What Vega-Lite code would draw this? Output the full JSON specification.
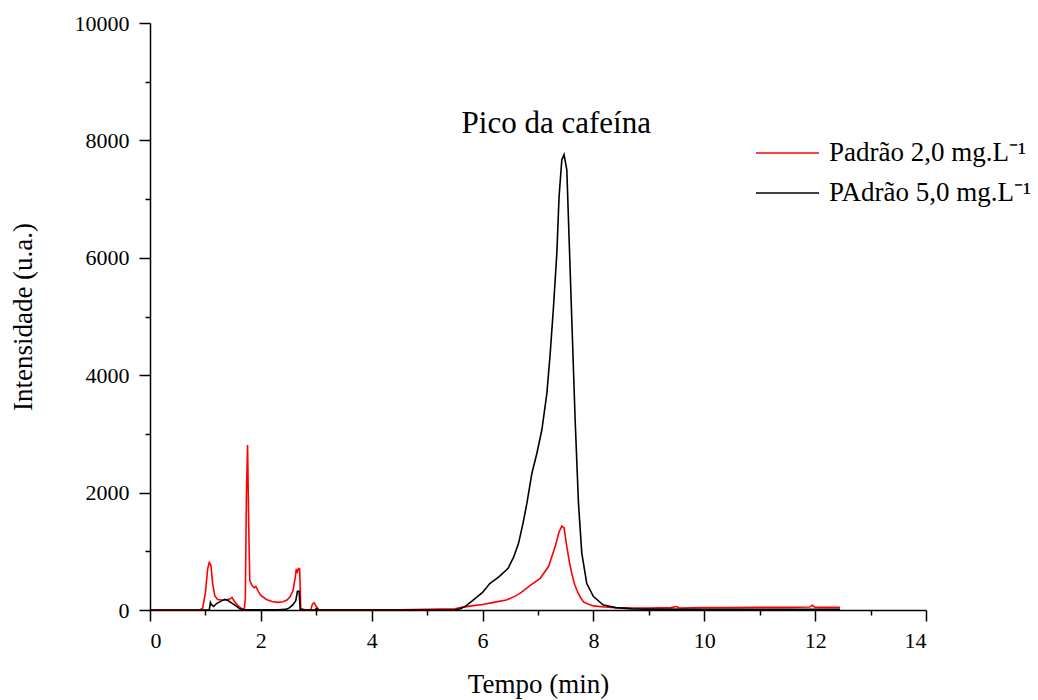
{
  "$schema": "https://vega.github.io/schema/vega-lite/v6.json",
  "width": 776,
  "height": 587,
  "autosize": {"type": "none"},
  "padding": {"left": 150, "top": 23, "right": 112, "bottom": 90},
  "background": "white",
  "config": {"view": {"stroke": null}, "font": "Liberation Serif"},
  "layer": [
    {
      "data": {
        "values": [
          {"t": 0, "v": 0, "s": "Padrão 2,0 mg.L⁻¹"},
          {"t": 0.5, "v": 0, "s": "Padrão 2,0 mg.L⁻¹"},
          {"t": 0.9, "v": 0, "s": "Padrão 2,0 mg.L⁻¹"},
          {"t": 0.95, "v": 30, "s": "Padrão 2,0 mg.L⁻¹"},
          {"t": 1.0, "v": 300, "s": "Padrão 2,0 mg.L⁻¹"},
          {"t": 1.04, "v": 700, "s": "Padrão 2,0 mg.L⁻¹"},
          {"t": 1.07, "v": 810, "s": "Padrão 2,0 mg.L⁻¹"},
          {"t": 1.1, "v": 760, "s": "Padrão 2,0 mg.L⁻¹"},
          {"t": 1.13, "v": 450, "s": "Padrão 2,0 mg.L⁻¹"},
          {"t": 1.17, "v": 240, "s": "Padrão 2,0 mg.L⁻¹"},
          {"t": 1.22, "v": 180, "s": "Padrão 2,0 mg.L⁻¹"},
          {"t": 1.3, "v": 170, "s": "Padrão 2,0 mg.L⁻¹"},
          {"t": 1.38, "v": 175, "s": "Padrão 2,0 mg.L⁻¹"},
          {"t": 1.45, "v": 190, "s": "Padrão 2,0 mg.L⁻¹"},
          {"t": 1.48, "v": 215, "s": "Padrão 2,0 mg.L⁻¹"},
          {"t": 1.52, "v": 150, "s": "Padrão 2,0 mg.L⁻¹"},
          {"t": 1.58, "v": 80, "s": "Padrão 2,0 mg.L⁻¹"},
          {"t": 1.62, "v": 50, "s": "Padrão 2,0 mg.L⁻¹"},
          {"t": 1.66, "v": 20, "s": "Padrão 2,0 mg.L⁻¹"},
          {"t": 1.7, "v": 10, "s": "Padrão 2,0 mg.L⁻¹"},
          {"t": 1.72, "v": 200, "s": "Padrão 2,0 mg.L⁻¹"},
          {"t": 1.74, "v": 2000, "s": "Padrão 2,0 mg.L⁻¹"},
          {"t": 1.76, "v": 2810, "s": "Padrão 2,0 mg.L⁻¹"},
          {"t": 1.78, "v": 1500, "s": "Padrão 2,0 mg.L⁻¹"},
          {"t": 1.8, "v": 500, "s": "Padrão 2,0 mg.L⁻¹"},
          {"t": 1.84, "v": 420, "s": "Padrão 2,0 mg.L⁻¹"},
          {"t": 1.88, "v": 380, "s": "Padrão 2,0 mg.L⁻¹"},
          {"t": 1.91, "v": 400, "s": "Padrão 2,0 mg.L⁻¹"},
          {"t": 1.95, "v": 320, "s": "Padrão 2,0 mg.L⁻¹"},
          {"t": 2.0, "v": 250, "s": "Padrão 2,0 mg.L⁻¹"},
          {"t": 2.1, "v": 180, "s": "Padrão 2,0 mg.L⁻¹"},
          {"t": 2.2, "v": 145, "s": "Padrão 2,0 mg.L⁻¹"},
          {"t": 2.3, "v": 130, "s": "Padrão 2,0 mg.L⁻¹"},
          {"t": 2.4, "v": 140, "s": "Padrão 2,0 mg.L⁻¹"},
          {"t": 2.47, "v": 170, "s": "Padrão 2,0 mg.L⁻¹"},
          {"t": 2.53, "v": 230, "s": "Padrão 2,0 mg.L⁻¹"},
          {"t": 2.58, "v": 330, "s": "Padrão 2,0 mg.L⁻¹"},
          {"t": 2.62, "v": 550, "s": "Padrão 2,0 mg.L⁻¹"},
          {"t": 2.64, "v": 700, "s": "Padrão 2,0 mg.L⁻¹"},
          {"t": 2.66, "v": 650, "s": "Padrão 2,0 mg.L⁻¹"},
          {"t": 2.68, "v": 710, "s": "Padrão 2,0 mg.L⁻¹"},
          {"t": 2.7, "v": 700, "s": "Padrão 2,0 mg.L⁻¹"},
          {"t": 2.72, "v": 20, "s": "Padrão 2,0 mg.L⁻¹"},
          {"t": 2.8, "v": 5, "s": "Padrão 2,0 mg.L⁻¹"},
          {"t": 2.9, "v": 5, "s": "Padrão 2,0 mg.L⁻¹"},
          {"t": 2.93, "v": 100, "s": "Padrão 2,0 mg.L⁻¹"},
          {"t": 2.96, "v": 125, "s": "Padrão 2,0 mg.L⁻¹"},
          {"t": 3.0, "v": 60, "s": "Padrão 2,0 mg.L⁻¹"},
          {"t": 3.05, "v": 5, "s": "Padrão 2,0 mg.L⁻¹"},
          {"t": 3.5, "v": 5, "s": "Padrão 2,0 mg.L⁻¹"},
          {"t": 4.0, "v": 5, "s": "Padrão 2,0 mg.L⁻¹"},
          {"t": 4.5, "v": 5, "s": "Padrão 2,0 mg.L⁻¹"},
          {"t": 5.0, "v": 10, "s": "Padrão 2,0 mg.L⁻¹"},
          {"t": 5.5, "v": 20, "s": "Padrão 2,0 mg.L⁻¹"},
          {"t": 5.6, "v": 40, "s": "Padrão 2,0 mg.L⁻¹"},
          {"t": 5.8, "v": 70, "s": "Padrão 2,0 mg.L⁻¹"},
          {"t": 6.0, "v": 95, "s": "Padrão 2,0 mg.L⁻¹"},
          {"t": 6.2, "v": 130, "s": "Padrão 2,0 mg.L⁻¹"},
          {"t": 6.43, "v": 170, "s": "Padrão 2,0 mg.L⁻¹"},
          {"t": 6.6, "v": 240, "s": "Padrão 2,0 mg.L⁻¹"},
          {"t": 6.7, "v": 300, "s": "Padrão 2,0 mg.L⁻¹"},
          {"t": 6.86, "v": 420, "s": "Padrão 2,0 mg.L⁻¹"},
          {"t": 7.04, "v": 540, "s": "Padrão 2,0 mg.L⁻¹"},
          {"t": 7.19, "v": 740, "s": "Padrão 2,0 mg.L⁻¹"},
          {"t": 7.31, "v": 1080, "s": "Padrão 2,0 mg.L⁻¹"},
          {"t": 7.38, "v": 1330, "s": "Padrão 2,0 mg.L⁻¹"},
          {"t": 7.43, "v": 1430, "s": "Padrão 2,0 mg.L⁻¹"},
          {"t": 7.47, "v": 1400, "s": "Padrão 2,0 mg.L⁻¹"},
          {"t": 7.52, "v": 1080, "s": "Padrão 2,0 mg.L⁻¹"},
          {"t": 7.57, "v": 800, "s": "Padrão 2,0 mg.L⁻¹"},
          {"t": 7.61, "v": 620, "s": "Padrão 2,0 mg.L⁻¹"},
          {"t": 7.66, "v": 440, "s": "Padrão 2,0 mg.L⁻¹"},
          {"t": 7.7, "v": 340, "s": "Padrão 2,0 mg.L⁻¹"},
          {"t": 7.76, "v": 220, "s": "Padrão 2,0 mg.L⁻¹"},
          {"t": 7.82, "v": 140, "s": "Padrão 2,0 mg.L⁻¹"},
          {"t": 7.9, "v": 100, "s": "Padrão 2,0 mg.L⁻¹"},
          {"t": 8.0, "v": 70, "s": "Padrão 2,0 mg.L⁻¹"},
          {"t": 8.2, "v": 50, "s": "Padrão 2,0 mg.L⁻¹"},
          {"t": 8.4, "v": 40, "s": "Padrão 2,0 mg.L⁻¹"},
          {"t": 8.7, "v": 35, "s": "Padrão 2,0 mg.L⁻¹"},
          {"t": 9.0, "v": 35, "s": "Padrão 2,0 mg.L⁻¹"},
          {"t": 9.4, "v": 40, "s": "Padrão 2,0 mg.L⁻¹"},
          {"t": 9.5, "v": 60, "s": "Padrão 2,0 mg.L⁻¹"},
          {"t": 9.55, "v": 35, "s": "Padrão 2,0 mg.L⁻¹"},
          {"t": 10.0, "v": 40, "s": "Padrão 2,0 mg.L⁻¹"},
          {"t": 10.5, "v": 40, "s": "Padrão 2,0 mg.L⁻¹"},
          {"t": 11.0, "v": 45, "s": "Padrão 2,0 mg.L⁻¹"},
          {"t": 11.5, "v": 45, "s": "Padrão 2,0 mg.L⁻¹"},
          {"t": 11.9, "v": 50, "s": "Padrão 2,0 mg.L⁻¹"},
          {"t": 11.95, "v": 80, "s": "Padrão 2,0 mg.L⁻¹"},
          {"t": 12.0, "v": 45, "s": "Padrão 2,0 mg.L⁻¹"},
          {"t": 12.45, "v": 45, "s": "Padrão 2,0 mg.L⁻¹"},

          {"t": 0, "v": 0, "s": "PAdrão 5,0 mg.L⁻¹"},
          {"t": 1.0, "v": 0, "s": "PAdrão 5,0 mg.L⁻¹"},
          {"t": 1.07, "v": 0, "s": "PAdrão 5,0 mg.L⁻¹"},
          {"t": 1.09, "v": 130, "s": "PAdrão 5,0 mg.L⁻¹"},
          {"t": 1.11, "v": 90, "s": "PAdrão 5,0 mg.L⁻¹"},
          {"t": 1.15, "v": 60, "s": "PAdrão 5,0 mg.L⁻¹"},
          {"t": 1.2, "v": 110, "s": "PAdrão 5,0 mg.L⁻¹"},
          {"t": 1.3, "v": 160, "s": "PAdrão 5,0 mg.L⁻¹"},
          {"t": 1.35, "v": 180, "s": "PAdrão 5,0 mg.L⁻¹"},
          {"t": 1.4, "v": 165, "s": "PAdrão 5,0 mg.L⁻¹"},
          {"t": 1.47, "v": 120, "s": "PAdrão 5,0 mg.L⁻¹"},
          {"t": 1.55, "v": 70, "s": "PAdrão 5,0 mg.L⁻¹"},
          {"t": 1.62, "v": 20, "s": "PAdrão 5,0 mg.L⁻¹"},
          {"t": 1.7, "v": 5, "s": "PAdrão 5,0 mg.L⁻¹"},
          {"t": 2.0, "v": 5, "s": "PAdrão 5,0 mg.L⁻¹"},
          {"t": 2.3, "v": 5, "s": "PAdrão 5,0 mg.L⁻¹"},
          {"t": 2.45, "v": 10, "s": "PAdrão 5,0 mg.L⁻¹"},
          {"t": 2.52, "v": 40, "s": "PAdrão 5,0 mg.L⁻¹"},
          {"t": 2.58, "v": 90, "s": "PAdrão 5,0 mg.L⁻¹"},
          {"t": 2.63, "v": 160, "s": "PAdrão 5,0 mg.L⁻¹"},
          {"t": 2.66, "v": 320, "s": "PAdrão 5,0 mg.L⁻¹"},
          {"t": 2.69, "v": 320, "s": "PAdrão 5,0 mg.L⁻¹"},
          {"t": 2.71, "v": 10, "s": "PAdrão 5,0 mg.L⁻¹"},
          {"t": 2.8, "v": 0, "s": "PAdrão 5,0 mg.L⁻¹"},
          {"t": 2.98, "v": 0, "s": "PAdrão 5,0 mg.L⁻¹"},
          {"t": 3.0, "v": 25, "s": "PAdrão 5,0 mg.L⁻¹"},
          {"t": 3.03, "v": 0, "s": "PAdrão 5,0 mg.L⁻¹"},
          {"t": 4.0, "v": 0, "s": "PAdrão 5,0 mg.L⁻¹"},
          {"t": 5.0, "v": 0, "s": "PAdrão 5,0 mg.L⁻¹"},
          {"t": 5.5, "v": 0, "s": "PAdrão 5,0 mg.L⁻¹"},
          {"t": 5.6, "v": 20, "s": "PAdrão 5,0 mg.L⁻¹"},
          {"t": 5.7, "v": 70, "s": "PAdrão 5,0 mg.L⁻¹"},
          {"t": 5.83, "v": 170, "s": "PAdrão 5,0 mg.L⁻¹"},
          {"t": 6.0, "v": 300, "s": "PAdrão 5,0 mg.L⁻¹"},
          {"t": 6.13, "v": 450, "s": "PAdrão 5,0 mg.L⁻¹"},
          {"t": 6.3, "v": 570, "s": "PAdrão 5,0 mg.L⁻¹"},
          {"t": 6.46, "v": 710, "s": "PAdrão 5,0 mg.L⁻¹"},
          {"t": 6.56, "v": 900, "s": "PAdrão 5,0 mg.L⁻¹"},
          {"t": 6.65, "v": 1140, "s": "PAdrão 5,0 mg.L⁻¹"},
          {"t": 6.73, "v": 1480, "s": "PAdrão 5,0 mg.L⁻¹"},
          {"t": 6.8, "v": 1820, "s": "PAdrão 5,0 mg.L⁻¹"},
          {"t": 6.89, "v": 2330, "s": "PAdrão 5,0 mg.L⁻¹"},
          {"t": 6.98, "v": 2670, "s": "PAdrão 5,0 mg.L⁻¹"},
          {"t": 7.07, "v": 3070, "s": "PAdrão 5,0 mg.L⁻¹"},
          {"t": 7.16, "v": 3690, "s": "PAdrão 5,0 mg.L⁻¹"},
          {"t": 7.22, "v": 4370, "s": "PAdrão 5,0 mg.L⁻¹"},
          {"t": 7.28, "v": 5170, "s": "PAdrão 5,0 mg.L⁻¹"},
          {"t": 7.34, "v": 6080, "s": "PAdrão 5,0 mg.L⁻¹"},
          {"t": 7.38, "v": 7040, "s": "PAdrão 5,0 mg.L⁻¹"},
          {"t": 7.43, "v": 7670, "s": "PAdrão 5,0 mg.L⁻¹"},
          {"t": 7.47, "v": 7760, "s": "PAdrão 5,0 mg.L⁻¹"},
          {"t": 7.52, "v": 7500, "s": "PAdrão 5,0 mg.L⁻¹"},
          {"t": 7.56, "v": 6360, "s": "PAdrão 5,0 mg.L⁻¹"},
          {"t": 7.61, "v": 4940, "s": "PAdrão 5,0 mg.L⁻¹"},
          {"t": 7.67, "v": 3240, "s": "PAdrão 5,0 mg.L⁻¹"},
          {"t": 7.73, "v": 1820, "s": "PAdrão 5,0 mg.L⁻¹"},
          {"t": 7.79, "v": 970, "s": "PAdrão 5,0 mg.L⁻¹"},
          {"t": 7.88, "v": 450, "s": "PAdrão 5,0 mg.L⁻¹"},
          {"t": 8.0, "v": 230, "s": "PAdrão 5,0 mg.L⁻¹"},
          {"t": 8.18, "v": 85, "s": "PAdrão 5,0 mg.L⁻¹"},
          {"t": 8.4, "v": 40, "s": "PAdrão 5,0 mg.L⁻¹"},
          {"t": 8.7, "v": 20, "s": "PAdrão 5,0 mg.L⁻¹"},
          {"t": 9.0, "v": 15, "s": "PAdrão 5,0 mg.L⁻¹"},
          {"t": 10.0, "v": 10, "s": "PAdrão 5,0 mg.L⁻¹"},
          {"t": 11.0, "v": 10, "s": "PAdrão 5,0 mg.L⁻¹"},
          {"t": 12.0, "v": 10, "s": "PAdrão 5,0 mg.L⁻¹"},
          {"t": 12.45, "v": 10, "s": "PAdrão 5,0 mg.L⁻¹"}
        ]
      },
      "mark": {"type": "line", "strokeWidth": 1.6},
      "encoding": {
        "x": {
          "field": "t",
          "type": "quantitative",
          "scale": {"domain": [0, 14], "nice": false, "zero": false},
          "axis": {
            "title": "Tempo (min)",
            "values": [0, 1, 2, 3, 4, 5, 6, 7, 8, 9, 10, 11, 12, 13, 14],
            "format": "d",
            "labelExpr": "datum.value % 2 === 0 ? datum.label : ''",
            "grid": false,
            "domainColor": "black",
            "domainWidth": 1.5,
            "tickColor": "black",
            "tickWidth": 1.5,
            "tickSize": {"condition": {"test": "datum.value % 2 === 0", "value": 11}, "value": 5},
            "labelFontSize": 22,
            "labelColor": "black",
            "labelPadding": 9,
            "labelFont": "Liberation Serif",
            "titleFont": "Liberation Serif",
            "titleFontSize": 27,
            "titleFontWeight": "normal",
            "titleColor": "black",
            "titlePadding": 20
          }
        },
        "y": {
          "field": "v",
          "type": "quantitative",
          "scale": {"domain": [0, 10000], "nice": false},
          "axis": {
            "title": "Intensidade (u.a.)",
            "values": [0, 1000, 2000, 3000, 4000, 5000, 6000, 7000, 8000, 9000, 10000],
            "format": "d",
            "labelExpr": "datum.value % 2000 === 0 ? datum.label : ''",
            "grid": false,
            "domainColor": "black",
            "domainWidth": 1.5,
            "tickColor": "black",
            "tickWidth": 1.5,
            "tickSize": {"condition": {"test": "datum.value % 2000 === 0", "value": 11}, "value": 5},
            "labelFontSize": 22,
            "labelColor": "black",
            "labelPadding": 10,
            "labelFont": "Liberation Serif",
            "titleFont": "Liberation Serif",
            "titleFontSize": 27,
            "titleFontWeight": "normal",
            "titleColor": "black",
            "titlePadding": 37
          }
        },
        "color": {
          "field": "s",
          "type": "nominal",
          "scale": {"domain": ["Padrão 2,0 mg.L⁻¹", "PAdrão 5,0 mg.L⁻¹"], "range": ["#ff0000", "#000000"]},
          "legend": {
            "title": null,
            "orient": "none",
            "legendX": 605,
            "legendY": 116,
            "symbolType": "stroke",
            "symbolSize": 3969,
            "symbolStrokeWidth": 1.6,
            "clipHeight": 28,
            "labelFontSize": 27,
            "labelFont": "Liberation Serif",
            "labelColor": "black",
            "labelLimit": 400,
            "labelOffset": 9,
            "rowPadding": 12
          }
        }
      }
    },
    {
      "data": {"values": [{"t": 7.33, "v": 8125, "label": "Pico da cafeína"}]},
      "mark": {"type": "text", "fontSize": 31, "font": "Liberation Serif", "color": "black", "baseline": "alphabetic"},
      "encoding": {
        "x": {"field": "t", "type": "quantitative"},
        "y": {"field": "v", "type": "quantitative"},
        "text": {"field": "label"}
      }
    }
  ]
}
